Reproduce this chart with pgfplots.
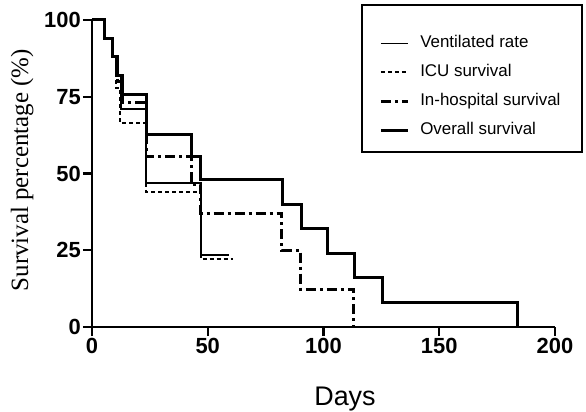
\documentclass[border=0pt]{standalone}
\usepackage{fontspec}
\setmainfont{Liberation Sans}
\newfontfamily\timesfont{Liberation Serif}
\usepackage{pgfplots}
\pgfplotsset{compat=1.18}
\usetikzlibrary{calc}

\begin{document}
\begin{tikzpicture}
\begin{axis}[
  scale only axis, width=463bp, height=307bp,
  xmin=0, xmax=200, ymin=0, ymax=100,
  axis x line=bottom, axis y line=left,
  axis line style={-, line width=2.4bp},
  xtick={0,50,100,150,200}, ytick={0,25,50,75,100},
  tick align=outside, major tick length=9bp,
  tick style={line width=2.2bp, black},
  /pgf/number format/assume math mode=true,
  ticklabel style={font=\bfseries\fontsize{22}{24}\selectfont, inner sep=2bp},
  xlabel={Days},
  xlabel style={font=\fontsize{27}{30}\selectfont, at={(axis description cs:0.5464,0)}, anchor=base, yshift=-78bp},
  ylabel={Survival percentage (\%)},
  ylabel style={font=\timesfont\fontsize{25}{27}\selectfont, at={(axis description cs:-0.1382,0.511)}, anchor=base},
  clip=false,
  legend style={at={(rel axis cs:0.62,0.9496)}, anchor=north west, draw=none, fill=none,
    inner sep=0pt, row sep=13.5bp, column sep=5bp,
    nodes={font=\fontsize{17}{19}\selectfont, text height=12bp, text depth=3.5bp, inner xsep=6bp, inner ysep=0bp}},
  legend cell align=left,
  legend image code/.code={\draw[#1] (0bp,0bp) -- (27bp,0bp);},
]
\addplot[const plot, black, line width=1.8bp] coordinates {
  (0,100) (5.5,94) (9,88) (10.5,82) (12.5,71) (23.4,47) (47,23.5) (59,23.5)};
\addlegendentry{Ventilated rate}
\addplot[const plot, black, line width=2bp, dash pattern=on 4bp off 3bp] coordinates {
  (0,100) (5.5,94) (9,88) (10.5,78) (12,66.6) (23.4,44) (47,22) (61,22)};
\addlegendentry{ICU survival}
\addplot[const plot, black, line width=3bp, dash pattern=on 10bp off 4bp on 3bp off 4bp] coordinates {
  (0,100) (5.5,94) (9,88) (11,80) (13,73) (23.4,55.5) (43,46.3) (47,37) (82,25) (90,12.3) (113,0)};
\addlegendentry{In-hospital survival}
\addplot[const plot, black, line width=3bp] coordinates {
  (0,100) (5.5,94) (9,88) (11,82) (13,75.6) (23.4,62.6) (43,55.5) (47,48) (82.4,40) (90.3,32) (101.6,24) (113.4,16) (125.7,8) (183.8,0)};
\addlegendentry{Overall survival}
\draw[line width=2.2bp] (rel axis cs:0.5832,1.0489) rectangle (rel axis cs:1.0583,0.570);
\coordinate (bl) at (rel axis cs:0,0);
\end{axis}
\pgfresetboundingbox
\path ($(bl)+(-92bp,-85bp)$) rectangle ($(bl)+(494bp,327bp)$);
\end{tikzpicture}
\end{document}
